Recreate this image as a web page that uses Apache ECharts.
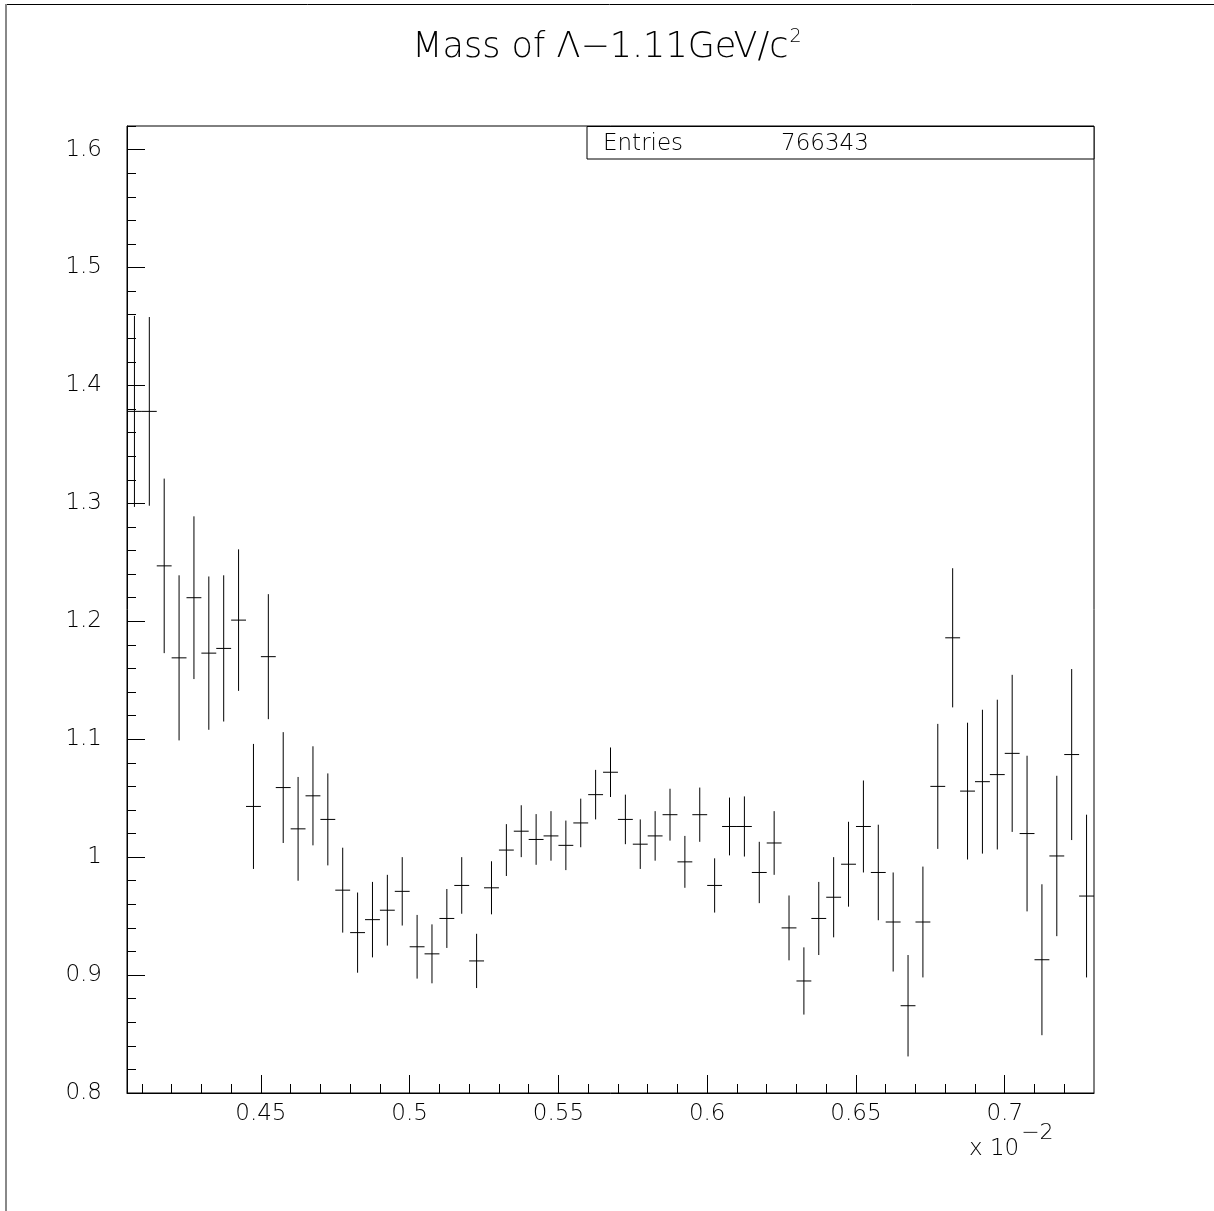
<!DOCTYPE html>
<html>
<head>
<meta charset="utf-8">
<script src="https://cdn.jsdelivr.net/npm/echarts@6/dist/echarts.min.js"></script>
<style>
html,body{margin:0;padding:0;background:#fff;}
#chart{width:1214px;height:1211px;}
</style>
</head>
<body>
<div id="chart"></div>
<script>
// ---- data ----
const titleMain = 'Mass of Λ−1.11GeV/c';
const titleSup = '2';
const statsLabel = 'Entries';
const statsEntries = '766343';
const binWidth = 0.005;
const xMin = 0.405, xMax = 0.73;
const yMin = 0.8, yMax = 1.62;

const binCenters = [
0.4075,0.4125,0.4175,0.4225,0.4275,0.4325,0.4375,0.4425,0.4475,0.4525,
0.4575,0.4625,0.4675,0.4725,0.4775,0.4825,0.4875,0.4925,0.4975,0.5025,
0.5075,0.5125,0.5175,0.5225,0.5275,0.5325,0.5375,0.5425,0.5475,0.5525,
0.5575,0.5625,0.5675,0.5725,0.5775,0.5825,0.5875,0.5925,0.5975,0.6025,
0.6075,0.6125,0.6175,0.6225,0.6275,0.6325,0.6375,0.6425,0.6475,0.6525,
0.6575,0.6625,0.6675,0.6725,0.6775,0.6825,0.6875,0.6925,0.6975,0.7025,
0.7075,0.7125,0.7175,0.7225,0.7275];

const values = [
1.378,1.378,1.247,1.169,1.220,1.173,1.177,1.201,1.043,1.170,
1.059,1.024,1.052,1.032,0.972,0.936,0.947,0.955,0.971,0.924,
0.918,0.948,0.976,0.912,0.974,1.006,1.022,1.015,1.018,1.010,
1.029,1.053,1.072,1.032,1.011,1.018,1.036,0.996,1.036,0.976,
1.026,1.026,0.987,1.012,0.940,0.895,0.948,0.966,0.994,1.026,
0.987,0.945,0.874,0.945,1.060,1.186,1.056,1.064,1.070,1.088,
1.020,0.913,1.001,1.087,0.967];

const errors = [
0.081,0.080,0.074,0.070,0.069,0.065,0.062,0.060,0.053,0.053,
0.047,0.044,0.042,0.039,0.036,0.034,0.032,0.030,0.029,0.027,
0.025,0.025,0.024,0.023,0.0225,0.022,0.022,0.0215,0.021,0.021,
0.0206,0.021,0.021,0.021,0.021,0.021,0.022,0.022,0.023,0.023,
0.0245,0.0255,0.026,0.027,0.0275,0.0285,0.031,0.034,0.036,0.039,
0.0405,0.042,0.043,0.047,0.053,0.059,0.058,0.061,0.0635,0.0666,
0.066,0.064,0.068,0.0725,0.069];

const xMajorTicks = [0.45,0.5,0.55,0.6,0.65,0.7];
const xMinorTicks = [0.41,0.42,0.43,0.44,0.46,0.47,0.48,0.49,0.51,0.52,0.53,0.54,
  0.56,0.57,0.58,0.59,0.61,0.62,0.63,0.64,0.66,0.67,0.68,0.69,0.71,0.72];
const yMajorTicks = [0.8,0.9,1.0,1.1,1.2,1.3,1.4,1.5,1.6];
const yMinorTicks = [0.82,0.84,0.86,0.88,0.92,0.94,0.96,0.98,1.02,1.04,1.06,1.08,
  1.12,1.14,1.16,1.18,1.22,1.24,1.26,1.28,1.32,1.34,1.36,1.38,1.42,1.44,1.46,1.48,
  1.52,1.54,1.56,1.58,1.62];
const xExponentBase = 'x 10';
const xExponentSup = '−2';

// ---- chart ----
const FONT = '"DejaVu Sans", "Liberation Sans", sans-serif';
const chart = echarts.init(document.getElementById('chart'), null, {renderer: 'canvas'});
const seriesData = binCenters.map((x, i) => [x, values[i], errors[i]]);

const option = {
  backgroundColor: '#fff',
  animation: false,
  title: {
    text: '{a|' + titleMain + '}{b|' + titleSup + '}',
    left: 'center',
    top: 25,
    textStyle: {
      rich: {
        a: {fontFamily: FONT, fontWeight: 200, fontSize: 35, lineHeight: 36, color: '#000'},
        b: {fontFamily: FONT, fontWeight: 200, fontSize: 19, lineHeight: 19, color: '#000', padding: [0, 0, 22, 1]}
      }
    }
  },
  grid: {
    left: 127, right: 120, top: 126, bottom: 118,
    show: true, borderColor: '#000', borderWidth: 1, backgroundColor: 'transparent'
  },
  xAxis: [
    {
      type: 'value', min: xMin, max: xMax, position: 'bottom',
      axisLine: {show: true, lineStyle: {color: '#000', width: 1}},
      axisTick: {show: true, inside: true, length: 18, customValues: xMajorTicks, lineStyle: {color: '#000'}},
      axisLabel: {show: true, customValues: xMajorTicks, margin: 10, color: '#000',
        fontFamily: FONT, fontWeight: 200, fontSize: 23},
      splitLine: {show: false}
    },
    {
      type: 'value', min: xMin, max: xMax, position: 'bottom',
      axisLine: {show: false},
      axisTick: {show: true, inside: true, length: 9, customValues: xMinorTicks, lineStyle: {color: '#000'}},
      axisLabel: {show: false},
      splitLine: {show: false}
    }
  ],
  yAxis: [
    {
      type: 'value', min: yMin, max: yMax, position: 'left',
      axisLine: {show: true, lineStyle: {color: '#000', width: 1}},
      axisTick: {show: true, inside: true, length: 18, customValues: yMajorTicks, lineStyle: {color: '#000'}},
      axisLabel: {show: true, customValues: yMajorTicks, margin: 25, color: '#000',
        fontFamily: FONT, fontWeight: 200, fontSize: 23},
      splitLine: {show: false}
    },
    {
      type: 'value', min: yMin, max: yMax, position: 'left',
      axisLine: {show: false},
      axisTick: {show: true, inside: true, length: 9, customValues: yMinorTicks, lineStyle: {color: '#000'}},
      axisLabel: {show: false},
      splitLine: {show: false}
    }
  ],
  series: [{
    type: 'custom',
    xAxisIndex: 0, yAxisIndex: 0,
    clip: true,
    data: seriesData,
    renderItem: function (params, api) {
      const x = api.value(0), y = api.value(1), e = api.value(2);
      const c = api.coord([x, y]);
      const l = api.coord([x - binWidth / 2, y]);
      const r = api.coord([x + binWidth / 2, y]);
      const t = api.coord([x, y + e]);
      const b = api.coord([x, y - e]);
      const st = {stroke: '#000', lineWidth: 1};
      return {
        type: 'group',
        children: [
          {type: 'line', shape: {x1: l[0], y1: c[1], x2: r[0], y2: c[1]}, style: st},
          {type: 'line', shape: {x1: c[0], y1: t[1], x2: c[0], y2: b[1]}, style: st}
        ]
      };
    }
  }],
  graphic: [
    {type: 'line', shape: {x1: 5, y1: 4.5, x2: 1214, y2: 4.5}, style: {stroke: '#000', lineWidth: 1}},
    {type: 'line', shape: {x1: 6, y1: 4, x2: 6, y2: 1211}, style: {stroke: '#888', lineWidth: 2}},
    {type: 'rect', shape: {x: 587, y: 126.5, width: 507, height: 32.5}, style: {fill: '#fff', stroke: '#000', lineWidth: 1}, z: 10},
    {type: 'text', x: 603, y: 144, z: 11, style: {text: statsLabel, fontFamily: FONT, fontWeight: 200, fontSize: 23, fill: '#000', verticalAlign: 'middle', align: 'left'}},
    {type: 'text', x: 781, y: 144, z: 11, style: {text: statsEntries, fontFamily: FONT, fontWeight: 200, fontSize: 23, fill: '#000', verticalAlign: 'middle', align: 'left'}},
    {type: 'text', x: 969, y: 1122, z: 11, style: {
      text: '{a|' + xExponentBase + '}{b|' + xExponentSup + '}',
      verticalAlign: 'top', align: 'left',
      rich: {
        a: {fontFamily: FONT, fontWeight: 200, fontSize: 23, lineHeight: 54, fill: '#000', color: '#000'},
        b: {fontFamily: FONT, fontWeight: 200, fontSize: 22, lineHeight: 22, fill: '#000', color: '#000', verticalAlign: 'top', padding: [0, 0, 0, 2]}
      }
    }}
  ]
};
chart.setOption(option);
</script>
</body>
</html>
